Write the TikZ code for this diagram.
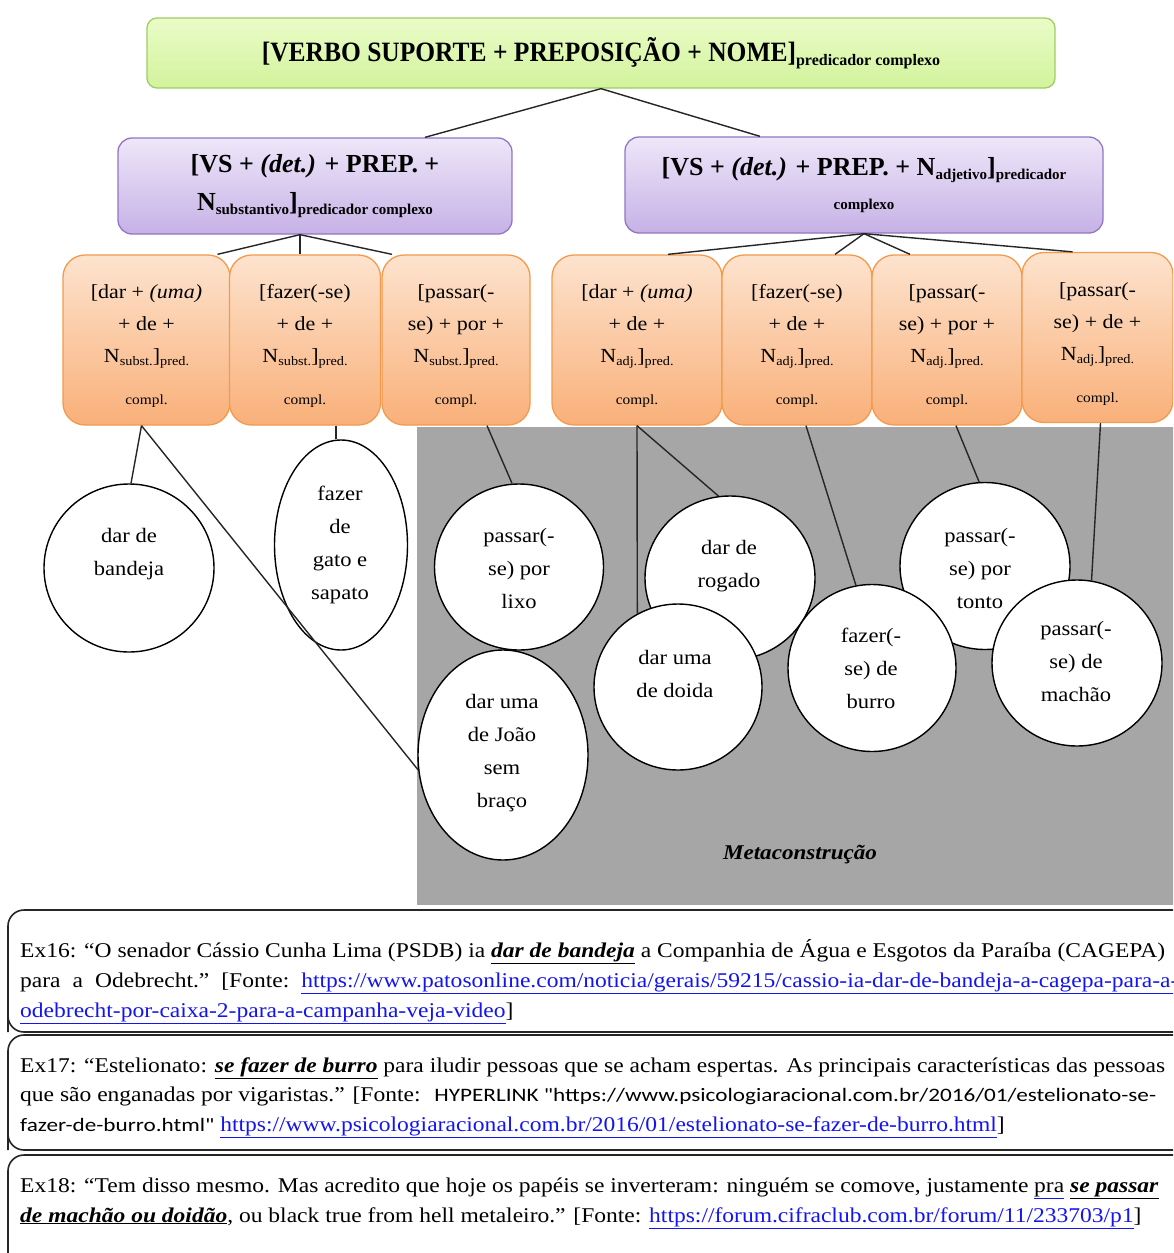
\documentclass[tikz,border=0pt]{standalone}
\usepackage{fontspec}
\setmainfont{Liberation Serif}
\newfontfamily\topf[FakeStretch=0.91]{Liberation Serif}
\newfontfamily\widef[FakeStretch=1.1]{Liberation Serif}
\newfontfamily\bodyf[FakeStretch=1.12]{Liberation Serif}
\newfontfamily\calf[FakeStretch=1.22]{Carlito}
\usetikzlibrary{shapes.geometric}
\definecolor{greenT}{HTML}{EAFCC8}
\definecolor{greenBo}{HTML}{D2F39C}
\definecolor{greenLine}{HTML}{A2CC64}
\definecolor{purT}{HTML}{EEE7F9}
\definecolor{purBo}{HTML}{C6B1E6}
\definecolor{purLine}{HTML}{9376C4}
\definecolor{orT}{HTML}{FDE3CE}
\definecolor{orBo}{HTML}{F9B079}
\definecolor{orLine}{HTML}{F39A4C}
\definecolor{metagray}{HTML}{A6A6A6}
\definecolor{linkblue}{HTML}{1414F0}
\newcommand\subx[2]{\raisebox{-0.35ex}{\fontsize{#1}{#1}\selectfont #2}}
\newcommand\bul[1]{\underline{\textbf{\textit{#1}}}}
\newcommand\lnk[1]{{\color{linkblue}\underline{#1}}}
\newcommand\ostrut{\rule{0pt}{26pt}}
\begin{document}
\begin{tikzpicture}[x=1pt,y=-1pt,
  topbox/.style={draw=greenLine, line width=1.3pt, rounded corners=10pt, top color=greenT, bottom color=greenBo, minimum width=908pt, minimum height=70pt, inner sep=0pt},
  vsbox/.style={draw=purLine, line width=1.3pt, rounded corners=14pt, top color=purT, bottom color=purBo, minimum height=96pt, inner sep=0pt, align=center, font=\bfseries\fontsize{26}{38}\selectfont},
  obox/.style={draw=orLine, line width=1.3pt, rounded corners=22pt, top color=orT, bottom color=orBo, minimum height=170pt, inner sep=0pt, align=center, font=\widef\fontsize{20}{32}\selectfont},
  circ/.style={ellipse, draw=black, line width=1.4pt, fill=white, inner sep=0pt},
  ctext/.style={align=center, font=\widef\fontsize{20.5}{33}\selectfont},
  conn/.style={draw=black!85, line width=1.4pt},
  exbox/.style={draw=black!85, line width=1.6pt},
  exline/.style={anchor=base west, inner sep=0pt, font=\bodyf\fontsize{21}{21}\selectfont}
]
\useasboundingbox (0,0) rectangle (1173,1253);
\clip (0,0) rectangle (1173,1253);
\fill[white] (0,0) rectangle (1173,1253);
\fill[metagray] (417,427) rectangle (1180,905);

% top
\node[topbox] (top) at (601,53) {\raisebox{6pt}{\topf\bfseries\fontsize{28}{28}\selectfont [VERBO SUPORTE + PREPOSIÇÃO + NOME]\subx{16}{\rmfamily\bfseries predicador complexo}}};
% second level
\node[vsbox, minimum width=394pt] (vsL) at (315,186) {[VS + \textit{(det.)} + PREP. +\\ N\subx{15}{substantivo}]\subx{15}{predicador complexo}};
\node[vsbox, minimum width=478pt] (vsR) at (864,185) {[VS + \textit{(det.)} + PREP. + N\subx{15}{adjetivo}]\subx{15}{predicador}\\[-4pt] {\fontsize{15}{15}\selectfont complexo}};

% orange boxes
\node[obox, minimum width=167pt] (o1) at (146.5,340) {\ostrut[dar + \textit{(uma)}\\ + de +\\ N\subx{13}{subst.}]\subx{13}{pred.}\\[10pt] {\fontsize{14}{14}\selectfont compl.}};
\node[obox, minimum width=151pt] (o2) at (305,340) {\ostrut[fazer(-se)\\ + de +\\ N\subx{13}{subst.}]\subx{13}{pred.}\\[10pt] {\fontsize{14}{14}\selectfont compl.}};
\node[obox, minimum width=148pt] (o3) at (456,340) {\ostrut[passar(-\\ se) + por +\\ N\subx{13}{subst.}]\subx{13}{pred.}\\[10pt] {\fontsize{14}{14}\selectfont compl.}};
\node[obox, minimum width=170pt] (o4) at (637,340) {\ostrut[dar + \textit{(uma)}\\ + de +\\ N\subx{13}{adj.}]\subx{13}{pred.}\\[10pt] {\fontsize{14}{14}\selectfont compl.}};
\node[obox, minimum width=150pt] (o5) at (797,340) {\ostrut[fazer(-se)\\ + de +\\ N\subx{13}{adj.}]\subx{13}{pred.}\\[10pt] {\fontsize{14}{14}\selectfont compl.}};
\node[obox, minimum width=150pt] (o6) at (947,340) {\ostrut[passar(-\\ se) + por +\\ N\subx{13}{adj.}]\subx{13}{pred.}\\[10pt] {\fontsize{14}{14}\selectfont compl.}};
\node[obox, minimum width=151pt] (o7) at (1097.5,337.5) {\ostrut[passar(-\\ se) + de +\\ N\subx{13}{adj.}]\subx{13}{pred.}\\[10pt] {\fontsize{14}{14}\selectfont compl.}};

% tree connectors
\draw[conn] (top.south) -- ([xshift=110pt]vsL.north);
\draw[conn] (top.south) -- ([xshift=-104pt]vsR.north);
\draw[conn] ([xshift=-15pt]vsL.south) -- ([xshift=71pt]o1.north);
\draw[conn] ([xshift=-15pt]vsL.south) -- ([xshift=-5pt]o2.north);
\draw[conn] ([xshift=-15pt]vsL.south) -- ([xshift=-64pt]o3.north);
\draw[conn] (vsR.south) -- ([xshift=31pt]o4.north);
\draw[conn] (vsR.south) -- ([xshift=38pt]o5.north);
\draw[conn] (vsR.south) -- ([xshift=-37pt]o6.north);
\draw[conn] (vsR.south) -- ([xshift=-25pt]o7.north);

% circles
\node[circ, minimum width=170pt, minimum height=168pt] (cBand) at (129,568) {};
\node[ctext] at (129,554) {dar de\\bandeja};
\node[circ, minimum width=133pt, minimum height=210pt] (cGato) at (341,545) {};
\node[ctext] at (340,545) {fazer\\de\\gato e\\sapato};
\node[circ, minimum width=169pt, minimum height=166pt] (cLixo) at (519,567) {};
\node[ctext] at (519,568) {passar(-\\se) por\\lixo};
\node[circ, minimum width=170pt, minimum height=210pt] (cJoao) at (503,755) {};
\node[ctext] at (502,753) {dar uma\\de João\\sem\\braço};
\node[circ, minimum width=170pt, minimum height=164pt] (cRog) at (730,578) {};
\node[ctext] at (729,566) {dar de\\rogado};
\node[circ, minimum width=168pt, minimum height=166pt] (cDoida) at (678,687) {};
\node[ctext] at (675,674) {dar uma\\de doida};
\node[circ, minimum width=170pt, minimum height=167pt] (cTonto) at (985,566) {};
\node[ctext] at (980,568) {passar(-\\se) por\\tonto};
\node[circ, minimum width=168pt, minimum height=167pt] (cBurro) at (872,668) {};
\node[ctext] at (871,668) {fazer(-\\se) de\\burro};
\node[circ, minimum width=170pt, minimum height=166pt] (cMach) at (1077,663) {};
\node[ctext] at (1076,661) {passar(-\\se) de\\machão};

% circle connectors
\draw[conn] ([xshift=-5pt]o1.south) -- ([xshift=2pt]cBand.north);
\draw[conn] ([xshift=-5pt]o1.south) -- (cJoao.190);
\draw[conn] ([xshift=31pt]o2.south) -- ([xshift=-5pt]cGato.north);
\draw[conn] ([xshift=31pt]o3.south) -- ([xshift=-7pt]cLixo.north);
\draw[conn] (o4.south) -- (cDoida.119);
\draw[conn] (o4.south) -- (cRog.98);
\draw[conn] ([xshift=9pt]o5.south) -- (cBurro.101);
\draw[conn] ([xshift=9pt]o6.south) -- (cTonto.94);
\draw[conn] ([xshift=3pt]o7.south) -- (cMach.80);

\node[font=\widef\bfseries\itshape\fontsize{21}{21}\selectfont] (meta) at (800,855) {Metaconstrução};

% example boxes
\draw[exbox] (8,1032) -- (8,926) arc[start angle=180, end angle=90, radius=16pt] -- (1200,910);
\draw[exbox] (1200,1032) -- (24,1032) arc[start angle=270, end angle=180, radius=16pt];
\draw[exbox] (8,1150) -- (8,1051) arc[start angle=180, end angle=90, radius=16pt] -- (1200,1035);
\draw[exbox] (1200,1150) -- (24,1150) arc[start angle=270, end angle=180, radius=16pt];
\draw[exbox] (8,1270) -- (8,1171) arc[start angle=180, end angle=90, radius=16pt] -- (1200,1155);

\node[exline] (e16a) at (20,957) {Ex16: “O senador Cássio Cunha Lima (PSDB) ia \bul{dar de bandeja} a Companhia de Água e Esgotos da Paraíba (CAGEPA)};
\node[exline] (e16b) at (20,987) {para\hskip 12pt a\hskip 12pt Odebrecht.”\hskip 12pt [Fonte:\hskip 12pt \lnk{https://www.patosonline.com/noticia/gerais/59215/cassio-ia-dar-de-bandeja-a-cagepa-para-a-}};
\node[exline] (e16c) at (20,1017) {\lnk{odebrecht-por-caixa-2-para-a-campanha-veja-video}]};
\node[exline] (e17a) at (20,1072) {Ex17: “Estelionato: \bul{se fazer de burro} para iludir pessoas que se acham espertas. As principais características das pessoas};
\node[exline] (e17b) at (20,1101) {que são enganadas por vigaristas.” [Fonte: \hskip 6pt{\calf\fontsize{19}{19}\selectfont HYPERLINK "https://www.psicologiaracional.com.br/2016/01/estelionato-se-}};
\node[exline] (e17c) at (20,1131) {{\calf\fontsize{19}{19}\selectfont fazer-de-burro.html"} \lnk{https://www.psicologiaracional.com.br/2016/01/estelionato-se-fazer-de-burro.html}]};
\node[exline] (e18a) at (20,1192) {Ex18: “Tem disso mesmo. Mas acredito que hoje os papéis se inverteram: ninguém se comove, justamente {\color{linkblue}\underline{\color{black}pra}} \bul{se passar}};
\node[exline] (e18b) at (20,1222) {\bul{de machão ou doidão}, ou black true from hell metaleiro.” [Fonte: \lnk{https://forum.cifraclub.com.br/forum/11/233703/p1}]};
\end{tikzpicture}
\end{document}
